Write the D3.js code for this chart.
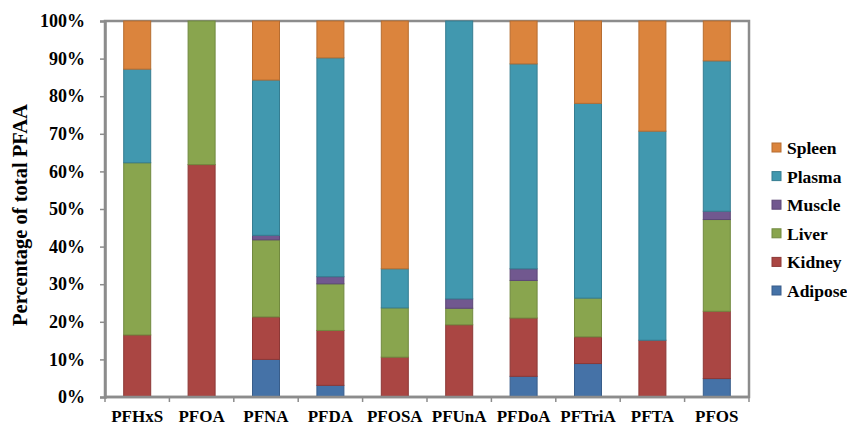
<!DOCTYPE html>
<html>
<head>
<meta charset="utf-8">
<script src="https://cdn.jsdelivr.net/npm/d3@7"></script>
<style>
  body { margin: 0; background: #fff; }
  text { font-family: "Liberation Serif", "Times New Roman", serif; font-weight: bold; }
</style>
</head>
<body>
<svg id="chart" width="847" height="425"></svg>
<script>
// Chart data (percent of total PFAA per tissue)
const compounds = ["PFHxS", "PFOA", "PFNA", "PFDA", "PFOSA", "PFUnA", "PFDoA", "PFTriA", "PFTA", "PFOS"];
const tissues = ["Adipose", "Kidney", "Liver", "Muscle", "Plasma", "Spleen"];
const adipose = [0, 0, 10.0, 3.1, 0, 0, 5.5, 8.9, 0, 4.9];
const kidney  = [16.5, 61.8, 11.3, 14.6, 10.6, 19.2, 15.5, 7.1, 15.1, 17.9];
const liver   = [45.8, 38.2, 20.5, 12.4, 13.1, 4.4, 10.0, 10.3, 0, 24.4];
const muscle  = [0, 0, 1.2, 1.9, 0, 2.5, 3.1, 0, 0, 2.2];
const plasma  = [24.9, 0, 41.3, 58.2, 10.4, 73.9, 54.5, 51.8, 55.6, 40.0];
const spleen  = [12.8, 0, 15.7, 9.8, 65.9, 0, 11.4, 21.9, 29.3, 10.6];
const yTicks = [0, 10, 20, 30, 40, 50, 60, 70, 80, 90, 100];

const fills = {Adipose: "#4572a7", Kidney: "#aa4643", Liver: "#89a54e", Muscle: "#71588f", Plasma: "#4198af", Spleen: "#db843d"};
const strokes = {Adipose: "#385d8a", Kidney: "#8c3836", Liver: "#71893f", Muscle: "#5c4776", Plasma: "#357d91", Spleen: "#b66d31"};

// Layout
const margin = {top: 21, right: 98, bottom: 28, left: 105};
const width = 847, height = 425;
const x0 = margin.left, x1 = width - margin.right;
const y0 = height - margin.bottom, y1 = margin.top;

const svg = d3.select("#chart");

const xScale = d3.scaleBand().domain(compounds).range([x0, x1]).paddingInner(0).paddingOuter(0);
const yScale = d3.scaleLinear().domain([0, 100]).range([y0, y1]);

// Build table for stacking
const seriesVals = {Adipose: adipose, Kidney: kidney, Liver: liver, Muscle: muscle, Plasma: plasma, Spleen: spleen};
const table = compounds.map((c, i) => {
  const row = {compound: c};
  tissues.forEach(t => row[t] = seriesVals[t][i]);
  return row;
});
const stacked = d3.stack().keys(tissues)(table);

// Plot frame
svg.append("rect")
  .attr("x", x0).attr("y", y1)
  .attr("width", x1 - x0).attr("height", y0 - y1)
  .attr("fill", "#fff")
  .attr("stroke", "#8c8c8c")
  .attr("stroke-width", 2.5);

// Bars
const barW = 27;
svg.append("g").selectAll("g")
  .data(stacked)
  .join("g")
    .attr("fill", d => fills[d.key])
    .attr("stroke", d => strokes[d.key])
  .selectAll("rect")
  .data(d => d.filter(s => s[1] - s[0] > 0))
  .join("rect")
    .attr("x", d => xScale(d.data.compound) + xScale.bandwidth() / 2 - barW / 2)
    .attr("y", d => yScale(d[1]))
    .attr("width", barW)
    .attr("height", d => yScale(d[0]) - yScale(d[1]))
    .attr("stroke-width", 1);

// Y axis
const yAxis = svg.append("g")
  .attr("transform", `translate(${x0},0)`)
  .call(d3.axisLeft(yScale).tickValues(yTicks).tickFormat(d => d + "%").tickSize(5).tickPadding(15));
yAxis.select(".domain").attr("stroke", "#8c8c8c").attr("stroke-width", 2.5);
yAxis.selectAll(".tick line").attr("stroke", "#8c8c8c").attr("stroke-width", 1.5);
yAxis.selectAll(".tick text").attr("font-size", "18px").attr("fill", "#000");

// X axis with ticks between categories
const xAxis = svg.append("g").attr("transform", `translate(0,${y0})`);
xAxis.append("line")
  .attr("x1", x0).attr("x2", x1)
  .attr("stroke", "#8c8c8c").attr("stroke-width", 2.5);
xAxis.selectAll(".xtick")
  .data(compounds.concat(["end"]))
  .join("line")
    .attr("class", "xtick")
    .attr("x1", (d, i) => x0 + i * xScale.step())
    .attr("x2", (d, i) => x0 + i * xScale.step())
    .attr("y1", 0).attr("y2", 5)
    .attr("stroke", "#8c8c8c").attr("stroke-width", 1.5);
xAxis.selectAll(".xlabel")
  .data(compounds)
  .join("text")
    .attr("class", "xlabel")
    .attr("x", d => xScale(d) + xScale.bandwidth() / 2)
    .attr("y", 25)
    .attr("text-anchor", "middle")
    .attr("font-size", "17px")
    .text(d => d);

// Y axis title
svg.append("text")
  .attr("transform", "translate(27,215) rotate(-90)")
  .attr("text-anchor", "middle")
  .attr("font-size", "20.5px")
  .text("Percentage of total PFAA");

// Legend (top to bottom: Spleen ... Adipose)
const legend = svg.append("g").attr("transform", "translate(772,143)");
const legendKeys = tissues.slice().reverse();
const li = legend.selectAll("g")
  .data(legendKeys)
  .join("g")
    .attr("transform", (d, i) => `translate(0,${i * 28.6})`);
li.append("rect")
  .attr("width", 9).attr("height", 9)
  .attr("fill", d => fills[d])
  .attr("stroke", d => strokes[d]);
li.append("text")
  .attr("x", 15).attr("y", 11)
  .attr("font-size", "17.5px")
  .text(d => d);
</script>
</body>
</html>
